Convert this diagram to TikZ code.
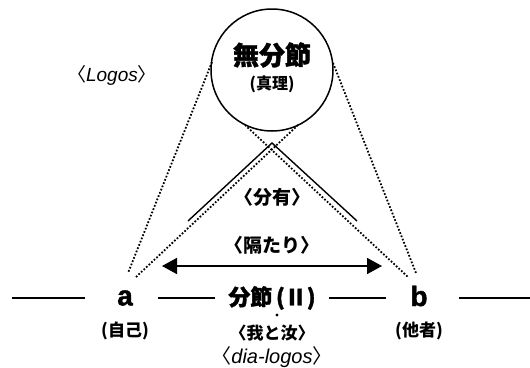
\documentclass[tikz,border=0pt]{standalone}
\usepackage{fontspec}
\setmainfont{Liberation Sans}
\newfontfamily\jp{Noto Sans CJK JP}
\newfontfamily\jpheavy{Noto Sans CJK JP}[FakeBold=1.5]
\newfontfamily\heavy{Liberation Sans Bold}[FakeBold=1.5]
\usetikzlibrary{arrows.meta}
\newcommand{\fs}[1]{\fontsize{#1}{#1}\selectfont}
\begin{document}
\begin{tikzpicture}[x=1pt,y=-1pt,
  dotline/.style={line width=1.8pt, dash pattern=on 1.7pt off 1.8pt},
  solidline/.style={line width=1.4pt},
  hline/.style={line width=1.6pt},
  lbl/.style={inner sep=0pt, anchor=center}]
\useasboundingbox (0,0) rectangle (530,367);
% circle
\node[circle, draw, line width=1.5pt, minimum size=122pt, inner sep=0pt] (c) at (272,70) {};
\node[lbl] (mu) at (272,55) {\jpheavy\bfseries\fs{26}無分節};
\node[lbl] (sr) at (272,84) {\jp\bfseries\fs{16}(真理)};
\node[lbl] (logos) at (112,75) {\fs{19}{\jp〈}\itshape Logos{\jp〉}};
% dotted lines
\coordinate (ot1) at (212,62);
\coordinate (ob1) at (128,273);
\coordinate (ot2) at (333,63);
\coordinate (ob2) at (416,273);
\coordinate (it1) at (298,125);
\coordinate (ib1) at (136,277);
\coordinate (it2) at (245,125);
\coordinate (ib2) at (408,277);
\draw[dotline] (ot1) -- (ob1);
\draw[dotline] (ot2) -- (ob2);
\draw[dotline] (it1) -- (ib1);
\draw[dotline] (it2) -- (ib2);
% solid V
\coordinate (v1) at (188,221);
\coordinate (v0) at (272,143);
\coordinate (v2) at (357,221);
\draw[solidline] (v1) -- (v0) -- (v2);
\node[lbl] (bunyu) at (272,197) {\jp\bfseries\fs{19}〈分有〉};
\node[lbl] (heda) at (272,245) {\jp\bfseries\fs{19}〈隔たり〉};
% arrow
\coordinate (al) at (162,266);
\coordinate (ar) at (382,266);
\draw[line width=1.7pt, {Triangle[length=15pt,width=16pt]}-{Triangle[length=15pt,width=16pt]}] (al) -- (ar);
% bottom row
\node[lbl] (a) at (125,298) {\heavy\fs{28}a};
\node[lbl] (b) at (419,296) {\heavy\fs{28}b};
\node[lbl] (mid) at (272,298) {\jpheavy\bfseries\fs{22}分節\,(Ⅱ)};
\coordinate (h1) at (12,298);
\coordinate (h2) at (85,298);
\coordinate (h3) at (158,298);
\coordinate (h4) at (215,298);
\coordinate (h5) at (329,298);
\coordinate (h6) at (386,298);
\coordinate (h7) at (459,298);
\coordinate (h8) at (530,298);
\draw[hline] (h1) -- (h2);
\draw[hline] (h3) -- (h4);
\draw[hline] (h5) -- (h6);
\draw[hline] (h7) -- (h8);
\node[lbl] (ji) at (125,331) {\jp\bfseries\fs{17}(自己)};
\node[lbl] (ta) at (419,331) {\jp\bfseries\fs{17}(他者)};
\node[lbl] (wa) at (272,333) {\jp\bfseries\fs{17}〈我と汝〉};
\fill (277,315) circle (1.7pt);
\node[lbl] (dia) at (272,357) {\fs{20}{\jp〈}\itshape dia-logos{\jp〉}};
\end{tikzpicture}
\end{document}
